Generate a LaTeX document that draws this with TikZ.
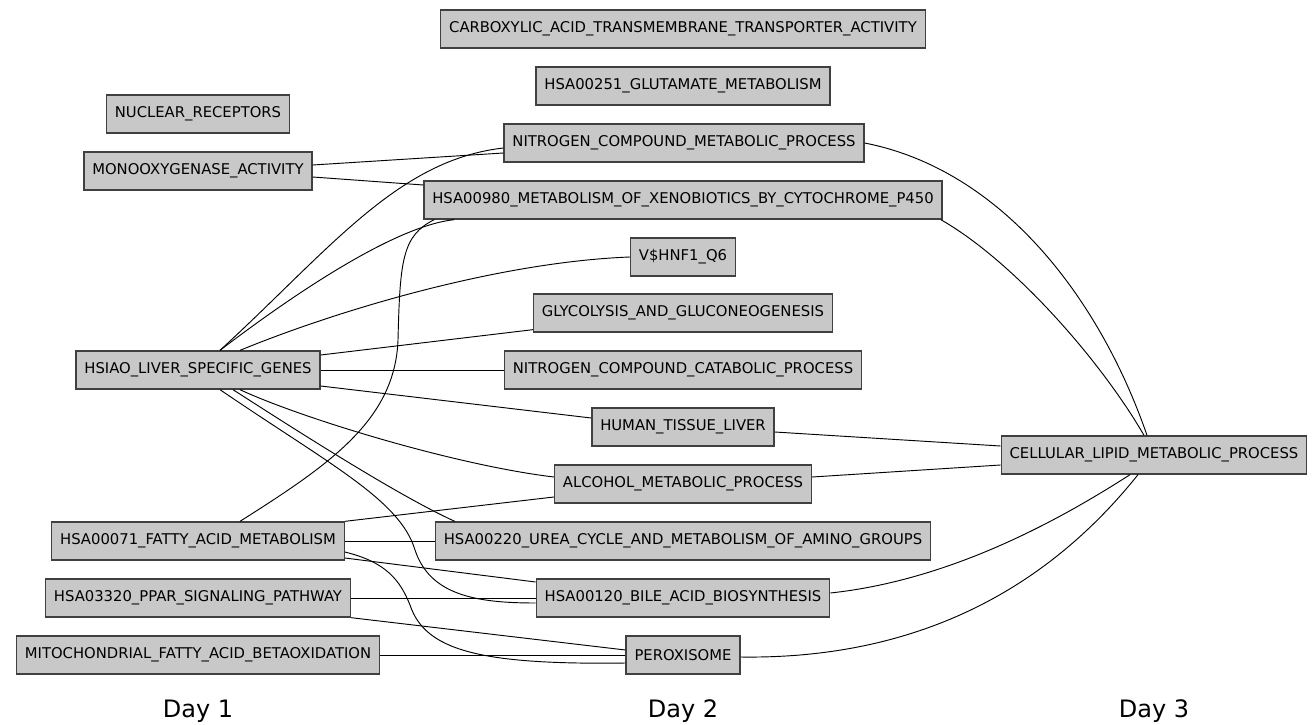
\documentclass[tikz,border=0pt]{standalone}
\usepackage{fontspec}
\setmainfont{DejaVu Sans}
\usetikzlibrary{calc}
\definecolor{boxgray}{RGB}{200,200,200}
\definecolor{edgegray}{RGB}{64,64,64}

\begin{document}
\begin{tikzpicture}[x=0.75pt, y=-0.75pt,
    term/.style={draw=edgegray, fill=boxgray, line width=1pt, rectangle, minimum height=28.5pt, inner xsep=6.3pt, font=\fontsize{11.1}{12}\selectfont},
    link/.style={line width=0.7pt},
    day/.style={font=\fontsize{18}{20}\selectfont}]
\useasboundingbox (0,0) rectangle (1316,724);

% day 1
\node (nuclear_rec) [term] at (198,114) {NUCLEAR\_RECEPTORS};
\node (monoox) [term] at (198,171) {MONOOXYGENASE\_ACTIVITY};
\node (hsiao_liver) [term] at (198,370) {HSIAO\_LIVER\_SPECIFIC\_GENES};
\node (fatty_acid) [term] at (198,541) {HSA00071\_FATTY\_ACID\_METABOLISM};
\node (ppar) [term] at (198,598) {HSA03320\_PPAR\_SIGNALING\_PATHWAY};
\node (mito_beta) [term] at (198,655) {MITOCHONDRIAL\_FATTY\_ACID\_BETAOXIDATION};

% day 2
\node (carboxylic) [term] at (683,29) {CARBOXYLIC\_ACID\_TRANSMEMBRANE\_TRANSPORTER\_ACTIVITY};
\node (glutamate) [term] at (683,86) {HSA00251\_GLUTAMATE\_METABOLISM};
\node (nitro_met) [term] at (684,143) {NITROGEN\_COMPOUND\_METABOLIC\_PROCESS};
\node (xenobiotics) [term] at (683,200) {HSA00980\_METABOLISM\_OF\_XENOBIOTICS\_BY\_CYTOCHROME\_P450};
\node (vhnf) [term] at (683,257) {V\$HNF1\_Q6};
\node (glycolysis) [term] at (683,313) {GLYCOLYSIS\_AND\_GLUCONEOGENESIS};
\node (nitro_cat) [term] at (683,370) {NITROGEN\_COMPOUND\_CATABOLIC\_PROCESS};
\node (tissue_liver) [term] at (683,427) {HUMAN\_TISSUE\_LIVER};
\node (alcohol) [term] at (683,484) {ALCOHOL\_METABOLIC\_PROCESS};
\node (urea_cycle) [term] at (683,541) {HSA00220\_UREA\_CYCLE\_AND\_METABOLISM\_OF\_AMINO\_GROUPS};
\node (bile_acid) [term] at (683,598) {HSA00120\_BILE\_ACID\_BIOSYNTHESIS};
\node (peroxisome) [term] at (683,655) {PEROXISOME};

% day 3
\node (cell_lipid) [term] at (1154,455) {CELLULAR\_LIPID\_METABOLIC\_PROCESS};

\node (day_one) [day] at (198,711) {Day 1};
\node (day_two) [day] at (683,711) {Day 2};
\node (day_three) [day] at (1154,711) {Day 3};

% day 1 -> day 2
\draw[link] ($(monoox.east)+(0,-6)$) -- ($(nitro_met.west)+(0,10)$);
\draw[link] ($(monoox.east)+(0,6)$) -- ($(xenobiotics.west)+(0,-15)$);
\draw[link] ($(hsiao_liver.north)+(22,0)$) .. controls +(110,-101) and +(-106,12) .. ($(nitro_met.west)+(0,5)$);
\draw[link] ($(hsiao_liver.north)+(22,0)$) .. controls +(80,-61) and +(-57,6) .. ($(xenobiotics.south west)+(31,0)$);
\draw[link] ($(hsiao_liver.north)+(42,0)$) .. controls +(100,-41) and +(-130,5) .. (vhnf.west);
\draw[link] ($(hsiao_liver.east)+(0,-15)$) -- ($(glycolysis.south west)+(0,-3)$);
\draw[link] (hsiao_liver.east) -- (nitro_cat.west);
\draw[link] ($(hsiao_liver.east)+(0,16)$) -- ($(tissue_liver.west)+(0,-9)$);
\draw[link] ($(hsiao_liver.south)+(42,0)$) .. controls +(60,28) and +(-100,-12) .. ($(alcohol.west)+(0,-7)$);
\draw[link] ($(hsiao_liver.south)+(35,0)$) .. controls +(70,45) and +(-55,-25) .. ($(urea_cycle.north west)+(20,0)$);
\draw[link] ($(hsiao_liver.south)+(22,0)$) .. controls +(110,75) and +(-15,-50) .. (415,550)
    .. controls +(15,45) and +(-60,0) .. ($(bile_acid.west)+(0,5)$);
\draw[link] ($(fatty_acid.north)+(42,0)$) .. controls +(90,-57) and +(-3,80) .. (398,340)
    .. controls +(2,-80) and +(-32,16) .. ($(xenobiotics.south west)+(11,0)$);
\draw[link] (fatty_acid.north east) -- ($(alcohol.west)+(0,13)$);
\draw[link] (fatty_acid.east) -- (urea_cycle.west);
\draw[link] ($(fatty_acid.east)+(0,17)$) -- ($(bile_acid.west)+(0,-16)$);
\draw[link] ($(fatty_acid.east)+(0,11)$) .. controls +(41,10) and +(-10,-25) .. (410,605)
    .. controls +(15,45) and +(-147,2) .. ($(peroxisome.west)+(0,8)$);
\draw[link] (ppar.east) -- (bile_acid.west);
\draw[link] (ppar.south east) -- ($(peroxisome.west)+(0,-5)$);
\draw[link] (mito_beta.east) -- (peroxisome.west);

% day 2 -> day 3
\draw[link] (nitro_met.east) .. controls +(138,27) and +(-47,-136) .. ($(cell_lipid.north)+(-7,0)$);
\draw[link] ($(xenobiotics.south east)+(-2,0)$) .. controls +(72,41) and +(-44,-76) .. ($(cell_lipid.north)+(-10,0)$);
\draw[link] ($(tissue_liver.east)+(0,5)$) -- ($(cell_lipid.west)+(0,-9)$);
\draw[link] ($(alcohol.east)+(0,-7)$) -- ($(cell_lipid.west)+(0,10)$);
\draw[link] ($(bile_acid.east)+(0,-5)$) .. controls +(121,-13) and +(-70,45) .. ($(cell_lipid.south)+(-24,0)$);
\draw[link] ($(peroxisome.east)+(0,2)$) .. controls +(210,3) and +(-68,85) .. ($(cell_lipid.south)+(-16,0)$);
\end{tikzpicture}
\end{document}
